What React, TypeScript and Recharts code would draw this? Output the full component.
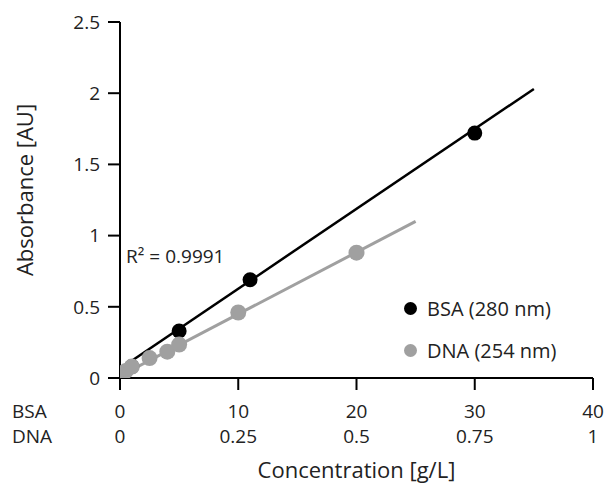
import React from 'react';
import { ComposedChart, XAxis, YAxis, Scatter, Line, ReferenceDot } from 'recharts';

// BSA concentration (g/L) and absorbance at 280 nm
const bsaConc = [0, 1, 5, 11, 30];
const bsaAbs = [0.01, 0.08, 0.33, 0.69, 1.72];

// DNA concentration (g/L) and absorbance at 254 nm
const dnaConc = [0, 0.0125, 0.025, 0.0625, 0.1, 0.125, 0.25, 0.5];
const dnaAbs = [0.02, 0.05, 0.08, 0.14, 0.185, 0.235, 0.46, 0.88];

// Linear fit end points (concentration on BSA scale, absorbance)
const bsaFitX = [0, 35];
const bsaFitY = [0.065, 2.03];
const dnaFitX = [0, 25];
const dnaFitY = [0.015, 1.1];

// Axis ticks
const xTicks = [0, 10, 20, 30, 40];
const dnaTickLabels = ['0', '0.25', '0.5', '0.75', '1'];
const yTicks = [0, 0.5, 1, 1.5, 2, 2.5];

const seriesNames = ['BSA (280 nm)', 'DNA (254 nm)'];

const DNA_SCALE = 40; // DNA axis 0..1 g/L maps onto BSA axis 0..40 g/L

const bsaPoints = bsaConc.map((c, i) => ({ x: c, y: bsaAbs[i] }));
const dnaPoints = dnaConc.map((c, i) => ({ x: c * DNA_SCALE, y: dnaAbs[i] }));
const bsaFit = bsaFitX.map((x, i) => ({ x, y: bsaFitY[i] }));
const dnaFit = dnaFitX.map((x, i) => ({ x, y: dnaFitY[i] }));

const FONT = '"Open Sans", Lato, sans-serif';
const FW = 400;
const TEXT = '#222222';
const GRAY = '#a0a0a0';
const TICK_FS = 19;

const XTick = (props: any) => {
  const { x, y, payload, index } = props;
  const common = { fill: TEXT, fontSize: TICK_FS, fontFamily: FONT, fontWeight: FW };
  return (
    <g>
      <text x={x} y={y} dy={26} textAnchor="middle" {...common}>
        {payload.value}
      </text>
      <text x={x} y={y} dy={51} textAnchor="middle" {...common}>
        {dnaTickLabels[index]}
      </text>
      {index === 0 && (
        <g>
          <text x={x - 108} y={y} dy={26} textAnchor="start" {...common}>
            BSA
          </text>
          <text x={x - 108} y={y} dy={51} textAnchor="start" {...common}>
            DNA
          </text>
        </g>
      )}
    </g>
  );
};

const LegendBox = () => {
  const colors = ['#000', GRAY];
  return (
    <div
      style={{
        position: 'absolute',
        left: 404,
        top: 287,
        fontFamily: FONT,
        fontWeight: FW,
        fontSize: 20,
        color: TEXT,
        whiteSpace: 'nowrap',
      }}
    >
      {seriesNames.map((name, i) => (
        <div key={name} style={{ display: 'flex', alignItems: 'center', height: 42 }}>
          <span
            style={{
              display: 'inline-block',
              width: 13,
              height: 13,
              borderRadius: '50%',
              background: colors[i],
              marginRight: 10,
            }}
          />
          <span>{name}</span>
        </div>
      ))}
    </div>
  );
};

export default function App() {
  return (
    <div style={{ position: 'absolute', left: 0, top: 0, width: 610, height: 485 }}>
      <ComposedChart
        width={610}
        height={485}
        margin={{ top: 22, right: 17, left: 13, bottom: 7 }}
        style={{ fontFamily: FONT }}
      >
        <XAxis
          dataKey="x"
          type="number"
          domain={[0, 40]}
          ticks={xTicks}
          interval={0}
          height={100}
          tickSize={12}
          tickMargin={2}
          stroke="#000"
          strokeWidth={2}
          tickLine={{ stroke: '#000', strokeWidth: 2 }}
          tick={<XTick />}
          allowDataOverflow
          label={{
            content: (p: any) => {
              const vb = p.viewBox;
              return (
                <text
                  x={vb.x + vb.width / 2}
                  y={vb.y + 91}
                  textAnchor="middle"
                  dominantBaseline="central"
                  fill={TEXT}
                  fontSize={22}
                  fontFamily={FONT}
                  fontWeight={FW}
                >
                  Concentration [g/L]
                </text>
              );
            },
          }}
        />
        <YAxis
          dataKey="y"
          type="number"
          domain={[0, 2.5]}
          ticks={yTicks}
          interval={0}
          width={107}
          tickSize={12}
          tickMargin={8}
          stroke="#000"
          strokeWidth={2}
          tickLine={{ stroke: '#000', strokeWidth: 2 }}
          tick={{ fill: TEXT, fontSize: TICK_FS, fontFamily: FONT, fontWeight: FW }}
          tickFormatter={(v: number) => String(v)}
          allowDataOverflow
          label={{
            content: (p: any) => {
              const vb = p.viewBox;
              const cx = vb.x + 11;
              const cy = vb.y + vb.height / 2 - 10;
              return (
                <text
                  x={cx}
                  y={cy}
                  transform={`rotate(-90 ${cx} ${cy})`}
                  textAnchor="middle"
                  dominantBaseline="central"
                  fill={TEXT}
                  fontSize={22}
                  fontFamily={FONT}
                  fontWeight={FW}
                >
                  Absorbance [AU]
                </text>
              );
            },
          }}
        />
        <Line
          data={bsaFit}
          dataKey="y"
          stroke="#000"
          strokeWidth={2.5}
          dot={false}
          activeDot={false}
          legendType="none"
          isAnimationActive={false}
        />
        <Line
          data={dnaFit}
          dataKey="y"
          stroke={GRAY}
          strokeWidth={3}
          dot={false}
          activeDot={false}
          legendType="none"
          isAnimationActive={false}
        />
        <Scatter
          name={seriesNames[0]}
          data={bsaPoints}
          dataKey="y"
          fill="#000"
          shape={(p: any) => <circle cx={p.cx} cy={p.cy} r={7.5} fill="#000" />}
          isAnimationActive={false}
        />
        <Scatter
          name={seriesNames[1]}
          data={dnaPoints}
          dataKey="y"
          fill={GRAY}
          shape={(p: any) => <circle cx={p.cx} cy={p.cy} r={8} fill={GRAY} />}
          isAnimationActive={false}
        />
        <ReferenceDot
          x={0.6}
          y={0.85}
          r={1}
          fill="none"
          stroke="none"
          label={{
            content: (p: any) => {
              const vb = p.viewBox;
              return (
                <text
                  x={vb.x}
                  y={vb.y}
                  textAnchor="start"
                  dominantBaseline="central"
                  fill={TEXT}
                  fontSize={TICK_FS}
                  fontFamily={FONT}
                  fontWeight={FW}
                >
                  R² = 0.9991
                </text>
              );
            },
          }}
        />
      </ComposedChart>
      <LegendBox />
    </div>
  );
}
